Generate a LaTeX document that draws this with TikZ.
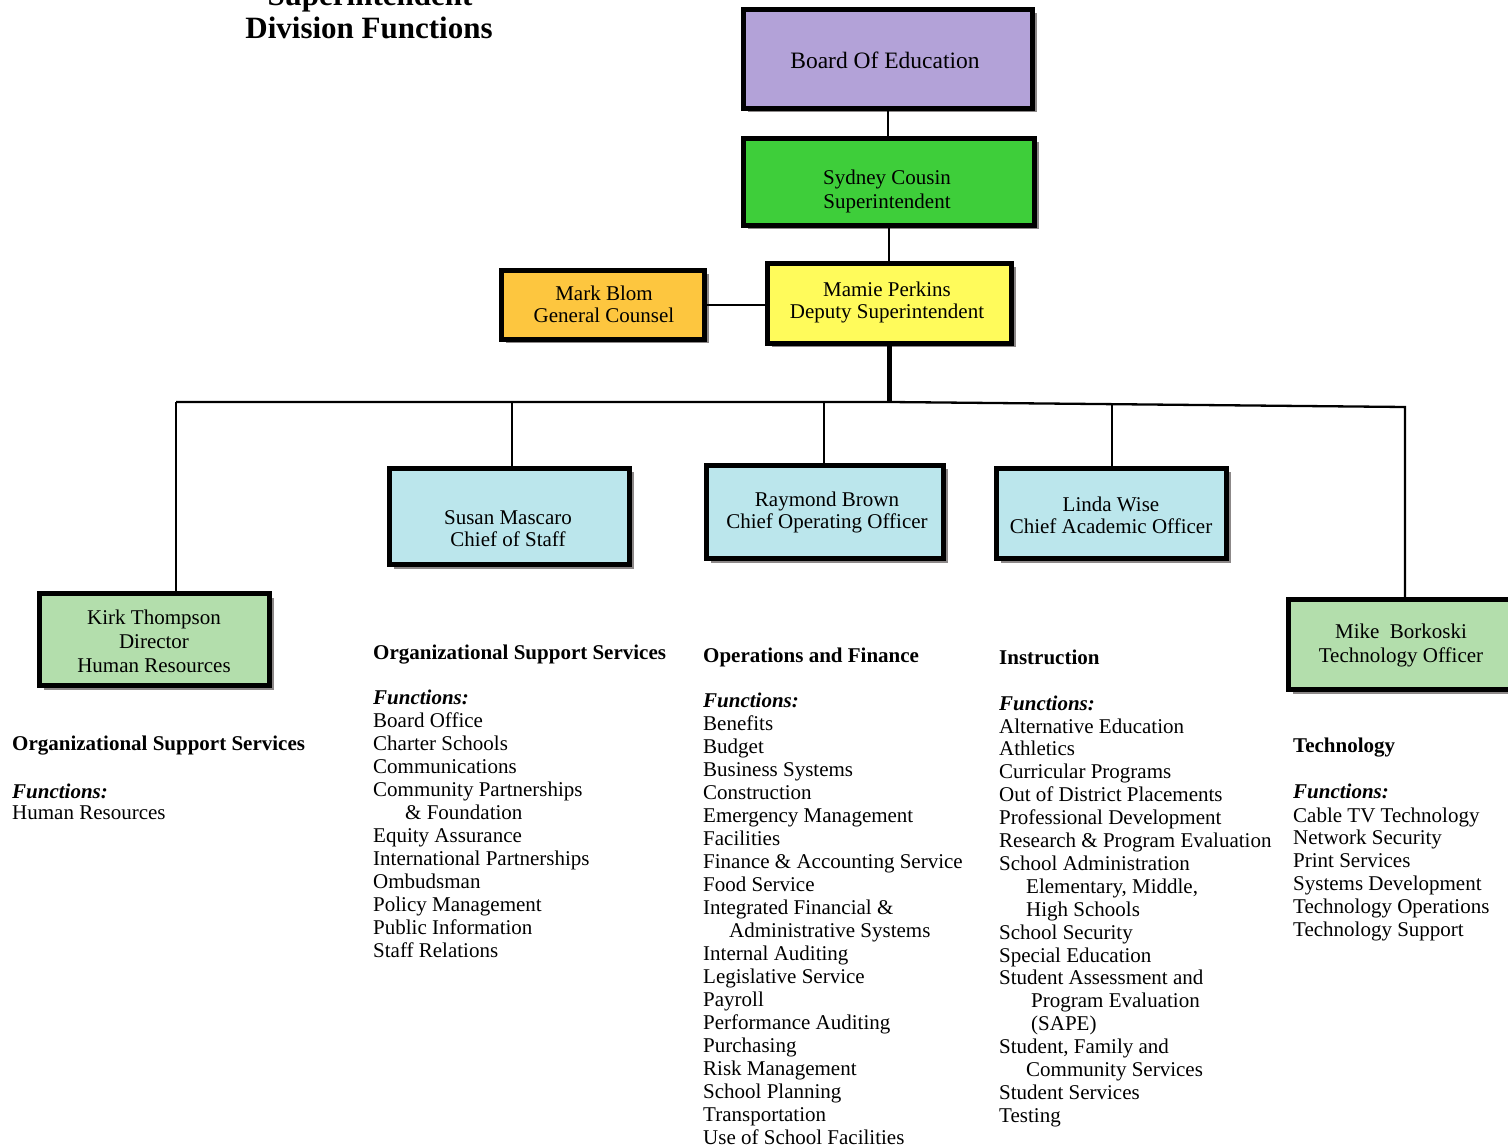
\documentclass[tikz,border=0pt]{standalone}
\usepackage{fontspec}
\setmainfont{Liberation Serif}
\usetikzlibrary{shadows,calc}
\definecolor{cPurple}{HTML}{B3A2D8}
\definecolor{cGreen}{HTML}{3ECE3A}
\definecolor{cYellow}{HTML}{FFFB5B}
\definecolor{cOrange}{HTML}{FDC63F}
\definecolor{cBlue}{HTML}{BBE6EC}
\definecolor{cLgreen}{HTML}{B3DEAC}
\definecolor{cShadow}{HTML}{8C8888}
\begin{document}
\begin{tikzpicture}[x=1pt,y=-1pt,
  box/.style={draw=black, line width=5pt, inner sep=0pt, outer sep=0pt,
    drop shadow={shadow xshift=4pt, shadow yshift=-4pt, fill=cShadow, opacity=1}},
  lbl/.style={align=center, inner sep=0pt, font=\fontsize{21}{22}\selectfont},
  lblw/.style={align=center, inner sep=0pt, font=\fontsize{21}{24}\selectfont},
  item/.style={anchor=base west, inner sep=0pt, font=\fontsize{21}{23}\selectfont},
  head/.style={item, font=\fontsize{21}{23}\selectfont\bfseries},
  func/.style={item, font=\fontsize{21}{23}\selectfont\bfseries\itshape},
  conn/.style={draw=black, line width=2.3pt},
  trunk/.style={draw=black, line width=4.5pt}
]
\useasboundingbox (0,0) rectangle (1508,1147);

% title
\node[align=center, inner sep=0pt, anchor=base, font=\fontsize{31}{33}\selectfont\bfseries] (title) at (370,6) {Superintendent};
\node[inner sep=0pt, anchor=base, font=\fontsize{31}{33}\selectfont\bfseries] (title2) at (369,39) {Division Functions};

% boxes
\node[box, fill=cPurple, minimum width=289pt, minimum height=99pt] (board) at (888,59) {};
\node[box, fill=cGreen, minimum width=291pt, minimum height=87pt] (syd) at (889,182) {};
\node[box, fill=cYellow, minimum width=244pt, minimum height=80pt] (mamie) at (889.5,303.5) {};
\node[box, fill=cOrange, minimum width=203pt, minimum height=69pt] (mark) at (603,305) {};
\node[box, fill=cBlue, minimum width=240pt, minimum height=96pt] (susan) at (509.5,516.5) {};
\node[box, fill=cBlue, minimum width=237pt, minimum height=93pt] (raymond) at (825,512) {};
\node[box, fill=cBlue, minimum width=230pt, minimum height=90pt] (linda) at (1111.5,513.5) {};
\node[box, fill=cLgreen, minimum width=230pt, minimum height=92pt] (kirk) at (154.5,639.5) {};
\node[box, fill=cLgreen, minimum width=227pt, minimum height=90pt] (mike) at (1402,644.5) {};

% box labels
\node[lbl, font=\fontsize{23.5}{24}\selectfont] (boardT) at (885,60) {Board Of Education};
\node[lblw] (sydT) at (887,191) {Sydney Cousin\\Superintendent};
\node[lbl] (mamieT) at (887,302) {Mamie Perkins\\Deputy Superintendent};
\node[lbl] (markT) at (604,304.5) {Mark Blom\\General Counsel};
\node[lbl] (susanT) at (508,528.5) {Susan Mascaro\\Chief of Staff};
\node[lbl] (raymondT) at (827,512.5) {Raymond Brown\\Chief Operating Officer};
\node[lbl] (lindaT) at (1111,515.5) {Linda Wise\\Chief Academic Officer};
\node[lblw] (kirkT) at (154,641) {Kirk Thompson\\Director\\Human Resources};
\node[lblw] (mikeT) at (1401,645) {Mike\ \ Borkoski\\Technology Officer};

% connectors
\coordinate (busL) at (176,402);
\coordinate (busM) at (889.5,402);
\coordinate (busR) at (1405,407);
\coordinate (dSusan) at (512,402);
\coordinate (dRaymond) at (824,402);
\coordinate (dLinda) at (1112,404.2);

\draw[conn] (board.south) -- (board.south |- syd.north);
\draw[conn] (syd.south) -- (syd.south |- mamie.north);
\draw[conn] (mark.east) -- (mark.east -| mamie.west);
\draw[trunk] (mamie.south) -- (busM);
\draw[conn] (busL) -- (busM) -- (busR) -- (busR |- mike.north);
\draw[conn] (busL) -- (busL |- kirk.north);
\draw[conn] (dSusan) -- (dSusan |- susan.north);
\draw[conn] (dRaymond) -- (dRaymond |- raymond.north);
\draw[conn] (dLinda) -- (dLinda |- linda.north);

% column 1: HR
\node[head] (hrH) at (12,750) {Organizational Support Services};
\node[func] (hrF) at (12,798) {Functions:};
\node[item] (hr0) at (12,819) {Human Resources};

% column 2: Org support
\node[head] (osH) at (373,659) {Organizational Support Services};
\node[func] (osF) at (373,704) {Functions:};
\foreach \t [count=\i from 0] in {Board Office, Charter Schools, Communications,
  Community Partnerships, {\hspace*{32pt}\& Foundation}, Equity Assurance,
  International Partnerships, Ombudsman, Policy Management, Public Information,
  Staff Relations}
  \node[item] (os\i) at (373,{727+23*\i}) {\t};

% column 3: Operations
\node[head] (opH) at (703,662) {Operations and Finance};
\node[func] (opF) at (703,707) {Functions:};
\foreach \t [count=\i from 0] in {Benefits, Budget, Business Systems, Construction,
  Emergency Management, Facilities, Finance \& Accounting Service, Food Service,
  Integrated Financial \&, {\hspace*{26pt}Administrative Systems}, Internal Auditing,
  Legislative Service, Payroll, Performance Auditing, Purchasing, Risk Management,
  School Planning, Transportation, Use of School Facilities}
  \node[item] (op\i) at (703,{730+23*\i}) {\t};

% column 4: Instruction
\node[head] (inH) at (999,664) {Instruction};
\node[func] (inF) at (999,710) {Functions:};
\foreach \t [count=\i from 0] in {Alternative Education, Athletics, Curricular Programs,
  Out of District Placements, Professional Development, Research \& Program Evaluation,
  School Administration, {\hspace*{27pt}Elementary, Middle,}, {\hspace*{27pt}High Schools},
  School Security, Special Education, Student Assessment and,
  {\hspace*{32pt}Program Evaluation}, {\hspace*{32pt}(SAPE)}, {Student, Family and},
  {\hspace*{27pt}Community Services}, Student Services, Testing}
  \node[item] (in\i) at (999,{733+22.9*\i}) {\t};

% column 5: Technology
\node[head] (teH) at (1293,752) {Technology};
\node[func] (teF) at (1293,798) {Functions:};
\foreach \t [count=\i from 0] in {Cable TV Technology, Network Security, Print Services,
  Systems Development, Technology Operations, Technology Support}
  \node[item] (te\i) at (1293,{822+22.8*\i}) {\t};
\end{tikzpicture}
\end{document}
